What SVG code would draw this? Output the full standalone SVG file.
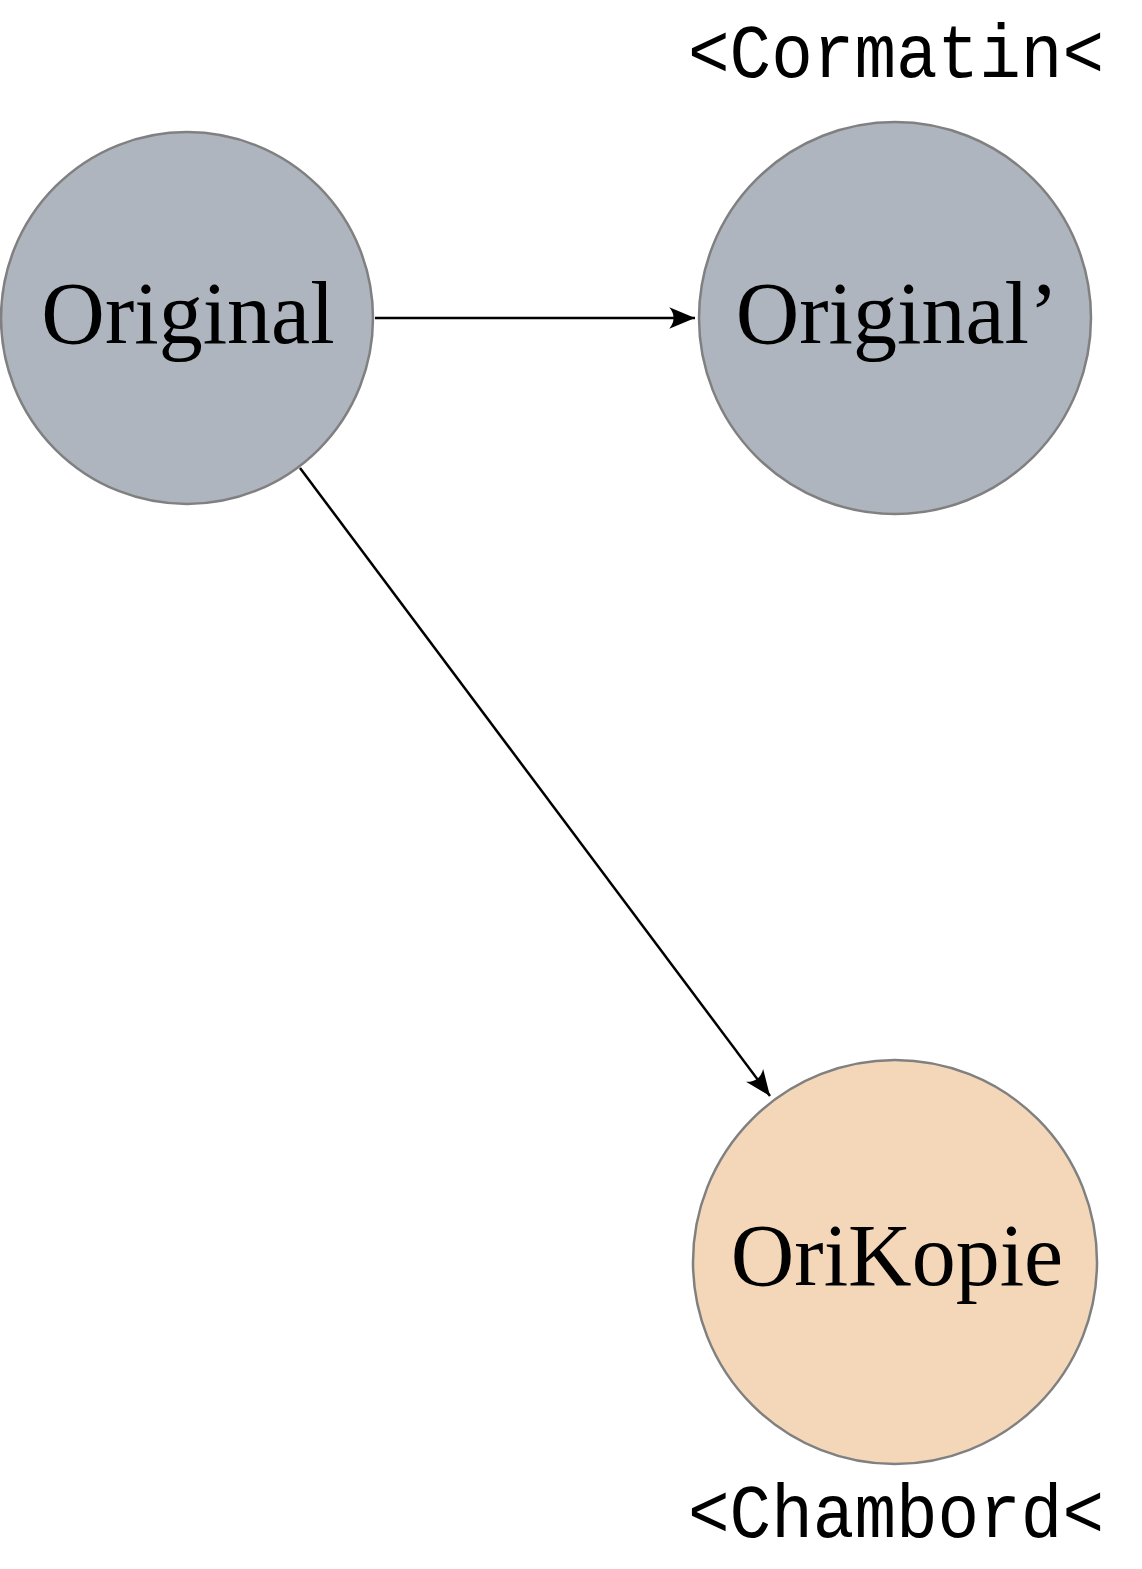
<svg xmlns="http://www.w3.org/2000/svg" width="1142" height="1569" viewBox="0 0 1142 1569">
<style>
.node{stroke:#808080;stroke-width:2.5}
.grey{fill:#aeb5bf}
.peach{fill:#f4d7b9}
.lbl{font-family:"Liberation Serif","Times New Roman",serif;font-size:88px;fill:#000;text-anchor:middle}
.tt{font-family:"Liberation Mono","Courier New",monospace;font-size:76px;fill:#000}
.edge{stroke:#000;stroke-width:2.5;fill:none}
</style>
<defs>
<marker id="arr" markerUnits="userSpaceOnUse" markerWidth="30" markerHeight="30" viewBox="-26 -12 28 24" refX="0" refY="0" orient="auto">
<path d="M0,0 L-24,-10 Q-16,0 -24,10 Z" fill="#000"/>
</marker>
</defs>
<rect width="1142" height="1569" fill="#fff"/>
<g id="connectors">
<line class="edge" x1="375" y1="318" x2="695" y2="318" marker-end="url(#arr)"/>
<line class="edge" x1="300" y1="468" x2="770" y2="1096" marker-end="url(#arr)"/>
</g>
<g id="node-original">
<circle class="node grey" cx="187" cy="318" r="186"/>
<text class="lbl" x="188" y="343">Original</text>
</g>
<g id="node-original2">
<circle class="node grey" cx="895" cy="318" r="196"/>
<text class="lbl" x="897" y="343">Original’</text>
<text class="tt" x="688" y="77" textLength="416" lengthAdjust="spacingAndGlyphs">&lt;Cormatin&lt;</text>
</g>
<g id="node-orikopie">
<circle class="node peach" cx="895" cy="1262" r="202"/>
<text class="lbl" x="897" y="1285">OriKopie</text>
<text class="tt" x="688" y="1537" textLength="416" lengthAdjust="spacingAndGlyphs">&lt;Chambord&lt;</text>
</g>
</svg>
